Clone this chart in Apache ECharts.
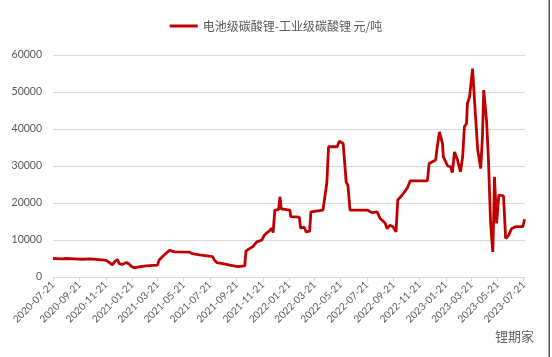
<!DOCTYPE html>
<html>
<head>
<meta charset="utf-8">
<script src="https://cdn.jsdelivr.net/npm/echarts@6/dist/echarts.min.js"></script>
<style>
html,body{margin:0;padding:0;background:#fff;}
#main{width:552px;height:357px;}
</style>
</head>
<body>
<div id="main"></div>
<script>
// ---- data ----
const seriesName = '电池级碳酸锂-工业级碳酸锂 元/吨';
const axisStart = '2020-07-21';
const axisEnd = '2023-07-24';
const yTicks = [0, 10000, 20000, 30000, 40000, 50000, 60000];
const dates = [
  '2020-07-21','2020-08-12','2020-08-20','2020-09-10','2020-09-27','2020-10-15','2020-11-05','2020-11-22',
  '2020-11-30','2020-12-06','2020-12-12','2020-12-18','2020-12-22','2020-12-29','2021-01-08','2021-01-14',
  '2021-01-20','2021-01-26','2021-02-10','2021-02-23','2021-03-21','2021-03-25','2021-04-06','2021-04-18',
  '2021-04-30','2021-06-04','2021-06-10','2021-06-27','2021-07-27','2021-08-01','2021-08-06','2021-08-20',
  '2021-09-05','2021-09-24','2021-10-10','2021-10-13','2021-10-20','2021-10-29','2021-11-07','2021-11-19',
  '2021-11-24','2021-11-30','2021-12-06','2021-12-12','2021-12-15','2021-12-19','2021-12-28','2021-12-31',
  '2022-01-03','2022-01-23','2022-01-25','2022-02-14','2022-02-17','2022-02-25','2022-03-02','2022-03-10',
  '2022-03-13','2022-04-10','2022-04-19','2022-04-23','2022-05-13','2022-05-18','2022-05-27','2022-06-03',
  '2022-06-07','2022-06-12','2022-07-22','2022-08-02','2022-08-14','2022-08-21','2022-09-02','2022-09-06',
  '2022-09-13','2022-09-20','2022-09-27','2022-10-01','2022-10-11','2022-10-23','2022-10-30','2022-12-09',
  '2022-12-13','2022-12-28','2023-01-01','2023-01-06','2023-01-13','2023-01-15','2023-01-25','2023-02-01',
  '2023-02-05','2023-02-10','2023-02-17','2023-02-24','2023-03-01','2023-03-05','2023-03-10','2023-03-12',
  '2023-03-17','2023-03-24','2023-03-29','2023-04-05','2023-04-12','2023-04-16','2023-04-19','2023-04-26',
  '2023-04-30','2023-05-05','2023-05-10','2023-05-12','2023-05-14','2023-05-19','2023-05-24','2023-06-04',
  '2023-06-09','2023-06-16','2023-06-23','2023-07-02','2023-07-19','2023-07-23'
];
const values = [
  5000,4900,5000,4900,4800,4900,4700,4500,
  3800,3300,4200,4700,3600,3400,3900,3500,
  2800,2500,2800,3000,3200,4600,6000,7200,
  6800,6700,6300,6000,5500,4500,3900,3600,
  3200,2800,3000,7000,7600,8200,9500,10000,
  11200,11900,12400,13200,12000,18000,18300,21700,
  18400,18100,16300,16200,13200,13500,12200,12400,
  17600,18100,25400,35200,35200,36700,36100,25700,
  24800,18100,18100,17400,17600,15800,14500,13100,
  14000,13600,12200,20800,22100,24000,26000,26000,
  30700,31600,35200,39200,36100,32500,30000,29800,
  28200,33800,31600,28400,32500,40600,41500,46900,
  48700,56300,46900,34300,29300,37900,50500,41500,
  31600,14500,6800,15400,27100,14500,22100,21900,
  10400,11300,13100,13600,13600,15600
];

// build daily calendar categories
function pad(n){return (n<10?'0':'')+n;}
const categories = [];
(function(){
  const s = new Date(axisStart + 'T00:00:00Z');
  const e = new Date(axisEnd + 'T00:00:00Z');
  for (let t = s.getTime(); t <= e.getTime(); t += 86400000) {
    const d = new Date(t);
    categories.push(d.getUTCFullYear() + '-' + pad(d.getUTCMonth()+1) + '-' + pad(d.getUTCDate()));
  }
})();
const isMajor = (idx, val) => /-(01|03|05|07|09|11)-21$/.test(val);

const chart = echarts.init(document.getElementById('main'));
chart.setOption({
  animation: false,
  backgroundColor: '#ffffff',
  textStyle: { fontFamily: 'Lato, "Noto Sans CJK SC", sans-serif' },
  legend: {
    data: [seriesName],
    left: 'center',
    top: 15,
    icon: 'rect',
    itemWidth: 28,
    itemHeight: 3,
    textStyle: { color: '#595959', fontSize: 12, fontFamily: '"Noto Sans CJK SC", sans-serif' }
  },
  grid: { left: 53, right: 27, top: 55, bottom: 80, containLabel: false },
  xAxis: {
    type: 'category',
    data: categories,
    boundaryGap: false,
    axisLine: { lineStyle: { color: '#d9d9d9', width: 1 } },
    axisTick: { show: true, interval: isMajor, length: 4, lineStyle: { color: '#d9d9d9' } },
    axisLabel: { interval: isMajor, rotate: 45, color: '#595959', fontSize: 10, margin: 6, fontFamily: 'Lato, sans-serif' },
    splitLine: { show: false }
  },
  yAxis: {
    type: 'value',
    min: yTicks[0],
    max: yTicks[yTicks.length-1],
    interval: 10000,
    axisLine: { show: false },
    axisTick: { show: false },
    axisLabel: { color: '#595959', fontSize: 10.5, margin: 11, fontFamily: 'Lato, sans-serif', formatter: v => String(v) },
    splitLine: { lineStyle: { color: '#d9d9d9', width: 1 } }
  },
  series: [{
    name: seriesName,
    type: 'line',
    data: dates.map((d, i) => [d, values[i]]),
    showSymbol: false,
    symbol: 'none',
    lineStyle: { color: '#c00000', width: 2.8 },
    itemStyle: { color: '#c00000' }
  }],
  graphic: [
    { type: 'rect', shape: { x: 548.5, y: 0, width: 1.5, height: 357 }, style: { fill: '#555555' }, silent: true },
    { type: 'text', left: 495, top: 330, style: { text: '锂期家', fill: '#666666', font: '13px "Noto Sans CJK SC", sans-serif' }, silent: true }
  ]
});
</script>
</body>
</html>
